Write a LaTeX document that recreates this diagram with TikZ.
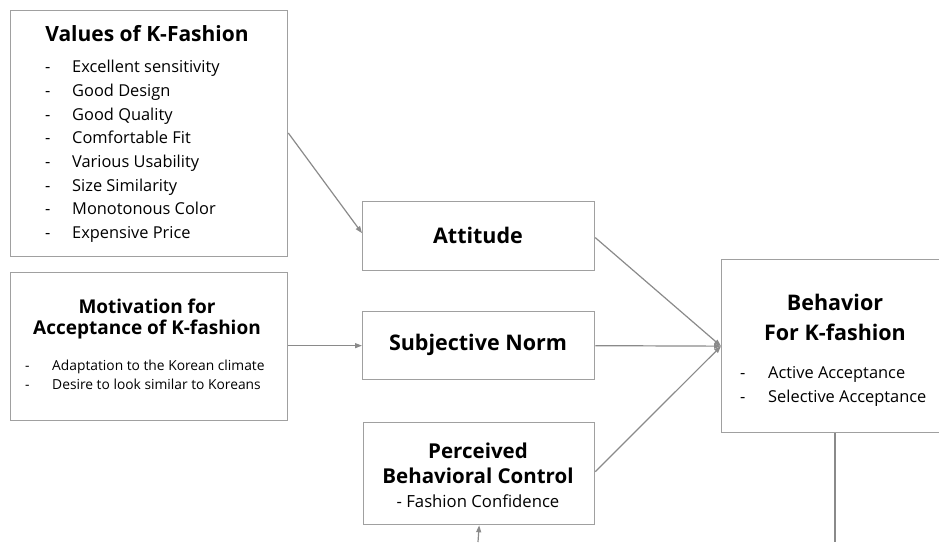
\documentclass[tikz,border=0pt]{standalone}
\usepackage{fontspec}
\setmainfont{Open Sans}
\usetikzlibrary{arrows.meta,calc}
\definecolor{boxline}{HTML}{A0A0A0}
\definecolor{conline}{HTML}{8A8A8A}
\tikzset{
  box/.style={draw=boxline, line width=1.3pt, anchor=north west, inner sep=0pt},
  con/.style={draw=conline, line width=1.2pt, -{Triangle[length=7pt,width=5pt]}},
  plain/.style={draw=conline, line width=1.2pt},
  head/.style={font=\fontsize{19}{23}\selectfont\bfseries, align=center, inner sep=0pt},
  item/.style={font=\fontsize{16.4}{18}\selectfont, anchor=base west, inner sep=0pt},
  smallitem/.style={font=\fontsize{13.8}{15}\selectfont, anchor=base west, inner sep=0pt},
}
\begin{document}
\begin{tikzpicture}[x=1pt,y=-1pt]
\useasboundingbox (0,0) rectangle (939,542);
% boxes
\node[box, minimum width=277pt, minimum height=246pt] (values) at (10,10) {};
\node[box, minimum width=277pt, minimum height=148pt] (motiv) at (10,272) {};
\node[box, minimum width=232pt, minimum height=69pt] (att) at (362,201) {};
\node[box, minimum width=232pt, minimum height=68pt] (sn) at (362,311) {};
\node[box, minimum width=231pt, minimum height=102pt] (pbc) at (363,422) {};
\node[box, minimum width=230pt, minimum height=173pt] (beh) at (721,259) {};
% values text
\node[head, font=\fontsize{21}{25}\selectfont\bfseries] (vt) at (147,34) {Values of K-Fashion};
\foreach \t [count=\i] in {Excellent sensitivity,Good Design,Good Quality,Comfortable Fit,Various Usability,Size Similarity,Monotonous Color,Expensive Price}{
  \node[item] (vd\i) at (45,{49+23.7*\i}) {-};
  \node[item] (vi\i) at (72,{49+23.7*\i}) {\t};
}
% motivation text
\node[head, font=\fontsize{19}{21.5}\selectfont\bfseries] (mt) at (147,319) {Motivation for\\Acceptance of K-fashion};
\node[smallitem] (md1) at (25,370) {-};
\node[smallitem] (mi1) at (52,370) {Adaptation to the Korean climate};
\node[smallitem] (md2) at (25,389) {-};
\node[smallitem] (mi2) at (52,389) {Desire to look similar to Koreans};
% middle texts
\node[head, font=\fontsize{21.5}{24}\selectfont\bfseries] (attt) at (478,235.5) {Attitude};
\node[head, font=\fontsize{21.5}{24}\selectfont\bfseries] (snt) at (478,345) {Subjective Norm};
\node[head, font=\fontsize{20.5}{25}\selectfont\bfseries] (pbct) at (478,463) {Perceived\\Behavioral Control};
\node[inner sep=0pt, font=\fontsize{16.7}{18}\selectfont] (pbci) at (478,501) {- Fashion Confidence};
% behavior text
\node[head, font=\fontsize{21.5}{30}\selectfont\bfseries] (bt) at (835,317) {Behavior\\For K-fashion};
\node[item] (bd1) at (740,378) {-};
\node[item] (bi1) at (768,378) {Active Acceptance};
\node[item] (bd2) at (740,402) {-};
\node[item] (bi2) at (768,402) {Selective Acceptance};
% free ends
\coordinate (pbcin) at (478,542);
\coordinate (behout) at (835,542);
% connectors
\draw[con] ($(values.north east)+(0,123)$) -- ($(att.west)+(0,-3)$);
\draw[con] (motiv.east |- sn.west) -- (sn.west);
\draw[con] ($(att.east)+(0,1.5)$) -- (beh.west);
\draw[con] (sn.east) -- (beh.west);
\draw[con] ($(pbc.east)+(0,-2)$) -- (beh.west);
\draw[con] (pbcin) -- (pbc.south);
\draw[plain] (beh.south -| behout) -- (behout);
\end{tikzpicture}
\end{document}
